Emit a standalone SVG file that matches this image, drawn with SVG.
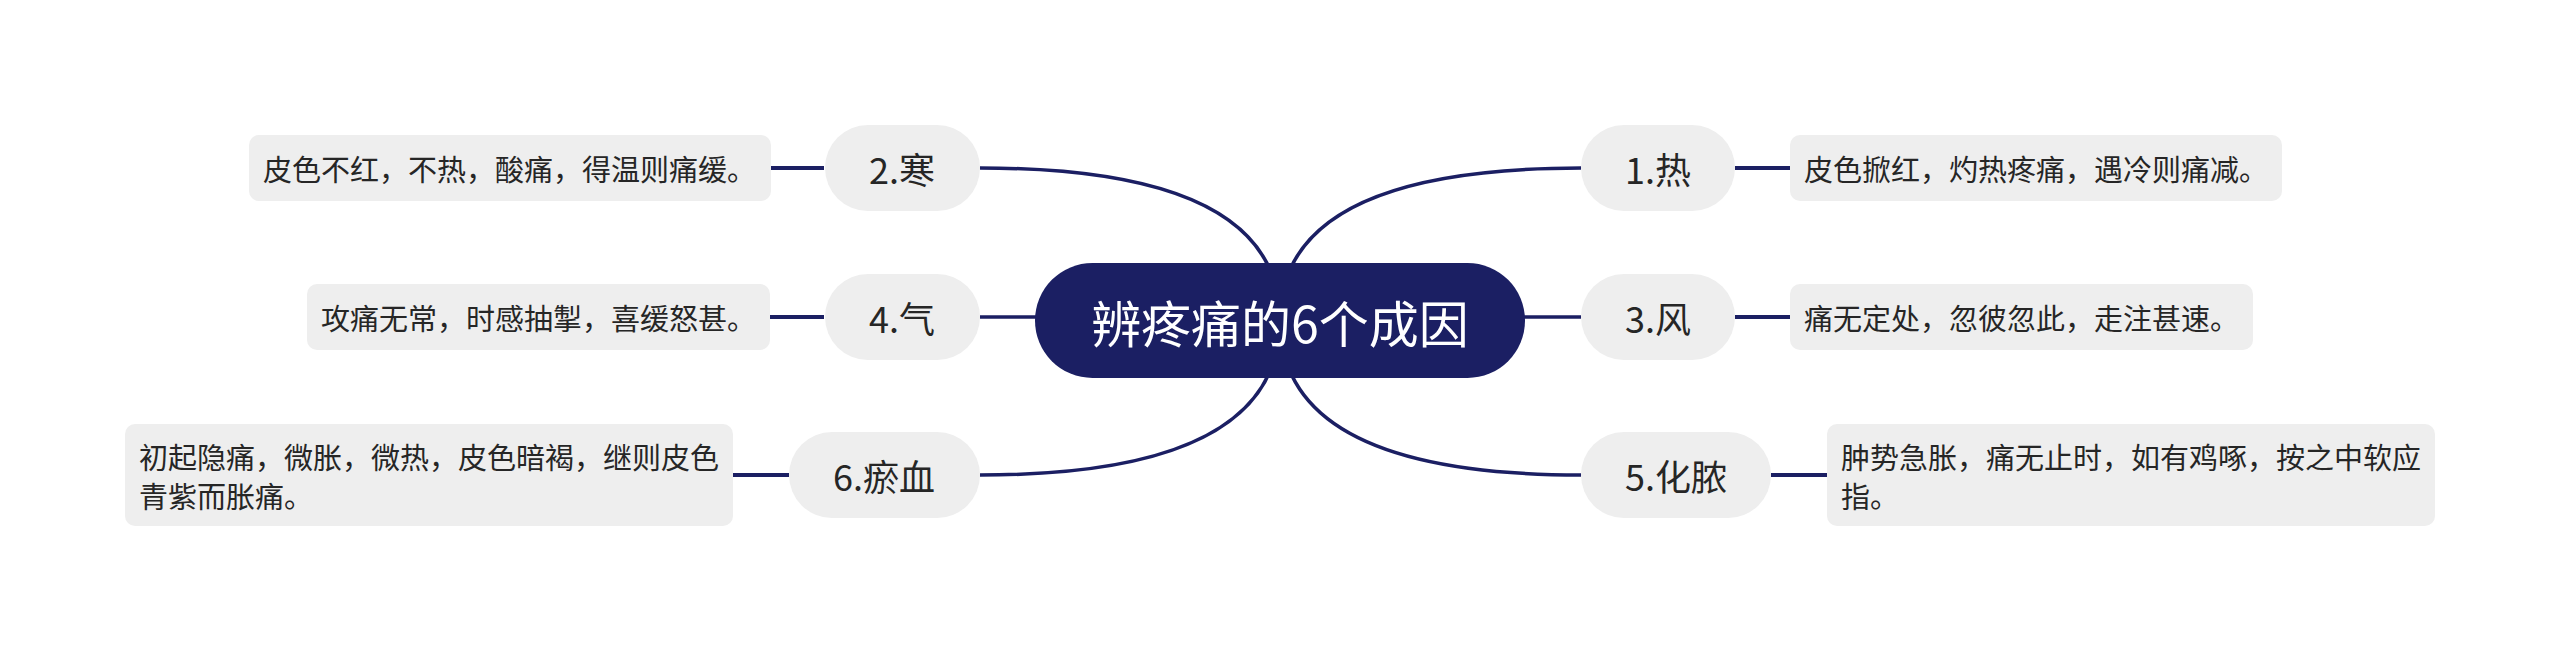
<svg xmlns="http://www.w3.org/2000/svg" width="2560" height="651" viewBox="0 0 2560 651">
<style>
.lnk{fill:none;stroke:#1b1f63;stroke-width:3.5}
.sh{fill:none;stroke:#1b1f63;stroke-width:4}
.topic{fill:#eeeeee}
.desc{fill:#eeeeee}
.tt{font-family:"Noto Sans CJK SC","Noto Sans",sans-serif;font-size:36px;fill:#262626;text-anchor:middle;dominant-baseline:central}
.dt{font-family:"Noto Sans CJK SC","Noto Sans",sans-serif;font-size:29px;fill:#262626;dominant-baseline:central}
.ct{font-family:"Noto Sans CJK SC","Noto Sans",sans-serif;font-size:50px;fill:#ffffff;text-anchor:middle;dominant-baseline:central}
</style>
<rect width="2560" height="651" fill="#ffffff"/>
<g id="connectors">
<path class="lnk" d="M1280,320 Q1280,168 1581,168"/>
<path class="lnk" d="M1280,317 L1581,317"/>
<path class="lnk" d="M1280,320 Q1280,475 1581,475"/>
<path class="lnk" d="M1280,320 Q1280,168 980,168"/>
<path class="lnk" d="M1280,317 L980,317"/>
<path class="lnk" d="M1280,320 Q1280,475 980,475"/>
<line class="sh" x1="1735" y1="168" x2="1790" y2="168"/>
<line class="sh" x1="1735" y1="317" x2="1790" y2="317"/>
<line class="sh" x1="1771" y1="475" x2="1827" y2="475"/>
<line class="sh" x1="771" y1="168" x2="824" y2="168"/>
<line class="sh" x1="770" y1="317" x2="824" y2="317"/>
<line class="sh" x1="733" y1="475" x2="789" y2="475"/>
</g>
<g id="center">
<rect x="1035" y="263" width="490" height="115" rx="57.5" fill="#1b1f63"/>
<text class="ct" x="1280" y="321">辨疼痛的6个成因</text>
</g>
<g id="n1">
<rect class="topic" x="1581" y="125" width="154" height="86" rx="43"/>
<text class="tt" x="1658" y="168">1.热</text>
</g>
<g id="d1">
<rect class="desc" x="1790" y="135" width="492" height="66" rx="10"/>
<text class="dt" x="1804" y="168">皮色掀红，灼热疼痛，遇冷则痛减。</text>
</g>
<g id="n3">
<rect class="topic" x="1581" y="274" width="154" height="86" rx="43"/>
<text class="tt" x="1658" y="317">3.风</text>
</g>
<g id="d3">
<rect class="desc" x="1790" y="284" width="463" height="66" rx="10"/>
<text class="dt" x="1804" y="317">痛无定处，忽彼忽此，走注甚速。</text>
</g>
<g id="n5">
<rect class="topic" x="1581" y="432" width="190" height="86" rx="43"/>
<text class="tt" x="1676" y="475">5.化脓</text>
</g>
<g id="d5">
<rect class="desc" x="1827" y="424" width="608" height="102" rx="10"/>
<text class="dt" x="1841" y="456">肿势急胀，痛无止时，如有鸡啄，按之中软应</text>
<text class="dt" x="1841" y="495">指。</text>
</g>
<g id="n2">
<rect class="topic" x="825" y="125" width="155" height="86" rx="43"/>
<text class="tt" x="902" y="168">2.寒</text>
</g>
<g id="d2">
<rect class="desc" x="249" y="135" width="522" height="66" rx="10"/>
<text class="dt" x="263" y="168">皮色不红，不热，酸痛，得温则痛缓。</text>
</g>
<g id="n4">
<rect class="topic" x="825" y="274" width="155" height="86" rx="43"/>
<text class="tt" x="902" y="317">4.气</text>
</g>
<g id="d4">
<rect class="desc" x="307" y="284" width="463" height="66" rx="10"/>
<text class="dt" x="321" y="317">攻痛无常，时感抽掣，喜缓怒甚。</text>
</g>
<g id="n6">
<rect class="topic" x="789" y="432" width="191" height="86" rx="43"/>
<text class="tt" x="884" y="475">6.瘀血</text>
</g>
<g id="d6">
<rect class="desc" x="125" y="424" width="608" height="102" rx="10"/>
<text class="dt" x="139" y="456">初起隐痛，微胀，微热，皮色暗褐，继则皮色</text>
<text class="dt" x="139" y="495">青紫而胀痛。</text>
</g>
</svg>
